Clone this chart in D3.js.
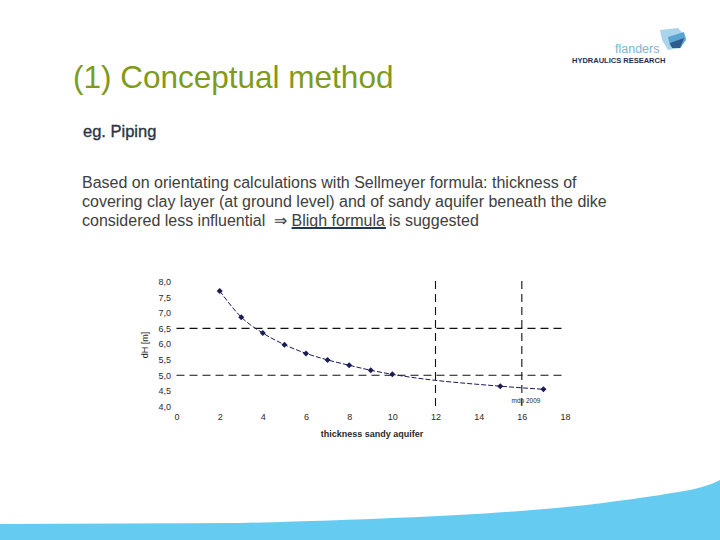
<!DOCTYPE html>
<html><head><meta charset="utf-8">
<script src="https://cdn.jsdelivr.net/npm/d3@7/dist/d3.min.js"></script>
<style>body{margin:0;background:#fff}svg{display:block}</style>
</head><body>
<svg id="c" width="720" height="540"></svg>
<script>
// ---- data ----
const thickness = [2, 3, 4, 5, 6, 7, 8, 9, 10, 15, 17];
const dH = [7.70, 6.86, 6.35, 5.98, 5.70, 5.49, 5.32, 5.16, 5.03, 4.65, 4.55];
const xTicks = [0, 2, 4, 6, 8, 10, 12, 14, 16, 18];
const yTicks = [4.0, 4.5, 5.0, 5.5, 6.0, 6.5, 7.0, 7.5, 8.0];
const hRefs = [6.5, 5.0];
const vRefs = [12, 16];
const bodyLines = [
  "Based on orientating calculations with Sellmeyer formula: thickness of",
  "covering clay layer (at ground level) and of sandy aquifer beneath the dike"
];

const svg = d3.select("#c");
const font = "'Liberation Sans', Arial, sans-serif";

// bottom wave
svg.append("path")
  .attr("d", "M0,524 L240,523 C360,520 450,516 520,511 C590,506 650,497 690,490 C705,487 714,483 720,480 L720,540 L0,540 Z")
  .attr("fill", "#66cbf1");

// title
svg.append("text").attr("x", 73).attr("y", 88).attr("font-family", font)
  .attr("font-size", 31.5).attr("fill", "#7f9a1c").text("(1) Conceptual method");

svg.append("text").attr("x", 83).attr("y", 137).attr("font-family", font)
  .attr("font-size", 16.5).attr("fill", "#2a3545").attr("stroke", "#2a3545").attr("stroke-width", 0.35)
  .text("eg. Piping");

const bodyFs = 16;
bodyLines.forEach((t, i) => {
  svg.append("text").attr("x", 82).attr("y", 188 + i * 19).attr("font-family", font)
    .attr("font-size", bodyFs).attr("fill", "#404040").text(t);
});
const p1 = svg.append("text").attr("x", 82).attr("y", 226).attr("font-family", font)
  .attr("font-size", bodyFs).attr("fill", "#404040").attr("xml:space", "preserve")
  .text("considered less influential  \u21D2 ");
const w1 = p1.node().getComputedTextLength();
const bx = 82 + w1;
const p2 = svg.append("text").attr("x", bx).attr("y", 226).attr("font-family", font)
  .attr("font-size", bodyFs).attr("fill", "#404040").text("Bligh formula");
const w2 = p2.node().getComputedTextLength();
svg.append("text").attr("x", bx + w2 + 4).attr("y", 226).attr("font-family", font)
  .attr("font-size", bodyFs).attr("fill", "#404040").text("is suggested");
svg.append("line").attr("x1", bx).attr("x2", bx + w2 + 1).attr("y1", 228).attr("y2", 228)
  .attr("stroke", "#22365a").attr("stroke-width", 2.2);

// logo
const lg = svg.append("g");
lg.append("path").attr("d", "M660,30 L678,28 L686,37 L681,48 L668,50 L662,40 Z").attr("fill", "#a9d4ec");
lg.append("path").attr("d", "M668,37 L684,32 L686,40 L680,48 L670,46 Z").attr("fill", "#5ba4d2");
lg.append("path").attr("d", "M670,43 L684,38 L680,48 L672,48 Z").attr("fill", "#2c5b8c");
lg.append("text").attr("x", 615).attr("y", 53).attr("font-family", font).attr("font-size", 12.5)
  .attr("fill", "#7db4d4").text("flanders");
lg.append("text").attr("x", 572).attr("y", 63).attr("font-family", font).attr("font-size", 7.5)
  .attr("font-weight", "bold").attr("fill", "#1f2e4f").text("HYDRAULICS RESEARCH");

// chart
const x = d3.scaleLinear().domain([0, 18]).range([176.5, 565]);
const y = d3.scaleLinear().domain([4, 8]).range([406.5, 281.5]);
const tickCol = "#2a2a2a";

const xAxis = d3.axisBottom(x).tickValues(xTicks).tickSize(0).tickPadding(0).tickFormat(d3.format("d"));
const gx = svg.append("g").attr("transform", "translate(0,414)").call(xAxis);
gx.select(".domain").remove();
gx.selectAll("text").attr("font-family", font).attr("font-size", 9).attr("fill", tickCol);

const yAxis = d3.axisLeft(y).tickValues(yTicks).tickSize(0).tickPadding(0)
  .tickFormat(d => d3.format(".1f")(d).replace(".", ","));
const gy = svg.append("g").attr("transform", "translate(171,0)").call(yAxis);
gy.select(".domain").remove();
gy.selectAll("text").attr("font-family", font).attr("font-size", 9).attr("fill", tickCol);

// reference lines
svg.selectAll(".h").data(hRefs).enter().append("line")
  .attr("x1", x(0)).attr("x2", 562).attr("y1", d => y(d)).attr("y2", d => y(d))
  .attr("stroke", "#111").attr("stroke-width", 1.1).attr("stroke-dasharray", "8,5");
svg.selectAll(".v").data(vRefs).enter().append("line")
  .attr("x1", d => x(d)).attr("x2", d => x(d)).attr("y1", 281).attr("y2", 411)
  .attr("stroke", "#111").attr("stroke-width", 1.1).attr("stroke-dasharray", "8,5");

const pts = thickness.map((t, i) => [t, dH[i]]);
svg.append("path").datum(pts)
  .attr("d", d3.line().x(d => x(d[0])).y(d => y(d[1])).curve(d3.curveMonotoneX))
  .attr("fill", "none").attr("stroke", "#1b1b55").attr("stroke-width", 1)
  .attr("stroke-dasharray", "5,2");

svg.selectAll(".pt").data(pts).enter().append("path")
  .attr("transform", d => `translate(${x(d[0])},${y(d[1])}) rotate(45)`)
  .attr("d", d3.symbol(d3.symbolSquare, 18))
  .attr("fill", "#1b1b55");

// axis titles
svg.append("text").attr("x", 372).attr("y", 437).attr("text-anchor", "middle")
  .attr("font-family", font).attr("font-size", 9).attr("font-weight", "bold").attr("fill", tickCol)
  .text("thickness sandy aquifer");
svg.append("text").attr("transform", "translate(148,345) rotate(-90)").attr("text-anchor", "middle")
  .attr("font-family", font).attr("font-size", 9).attr("fill", tickCol).text("dH [m]");
svg.append("text").attr("x", 526).attr("y", 403).attr("text-anchor", "middle")
  .attr("font-family", font).attr("font-size", 6.5).attr("fill", tickCol).text("mdp 2009");
</script>
</body></html>
